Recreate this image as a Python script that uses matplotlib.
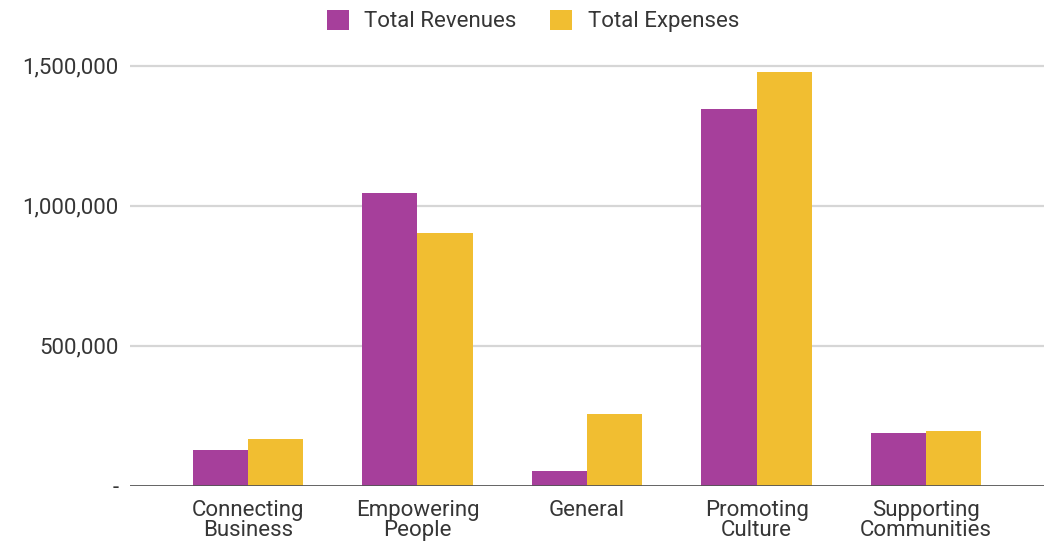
import numpy as np
import matplotlib.pyplot as plt
from matplotlib.ticker import FuncFormatter

plt.rcParams['font.family'] = ['Roboto', 'DejaVu Sans']

categories = ['Connecting\nBusiness', 'Empowering\nPeople', 'General',
              'Promoting\nCulture', 'Supporting\nCommunities']
revenues = [128000, 1045000, 54000, 1345000, 189000]
expenses = [168000, 903000, 257000, 1477000, 196000]
yticks = [0, 500000, 1000000, 1500000]

purple = '#A63F9B'
yellow = '#F1BE31'
text_color = '#363636'

fig = plt.figure(figsize=(10.44, 5.43), dpi=100)
ax = fig.add_axes([130 / 1044, 1 - 486 / 543, 914 / 1044, 431 / 543])

x = np.arange(len(categories))
w = 0.325
ax.bar(x - w / 2, revenues, w, color=purple, label='Total Revenues', zorder=3)
ax.bar(x + w / 2, expenses, w, color=yellow, label='Total Expenses', zorder=3)

ax.set_xlim(-0.5 - 33 / 169.5, 4.5 + 33 / 169.5)
ax.set_ylim(0, 1.5375e6)

ax.set_xticks(x)
ax.set_xticklabels(categories, fontsize=16, color=text_color, linespacing=0.92)
ax.set_yticks(yticks)
ax.yaxis.set_major_formatter(FuncFormatter(lambda v, p: '-' if v == 0 else f'{int(v):,}'))
ax.tick_params(axis='y', length=0, pad=8, labelsize=16, labelcolor=text_color)
ax.tick_params(axis='x', length=0, pad=10)

for t in yticks[1:]:
    ax.axhline(t, color='#d6d6d6', lw=1.6, zorder=1)
ax.axhline(0, color='#555555', lw=2, zorder=4)

for s in ax.spines.values():
    s.set_visible(False)

fig.legend(loc='center', bbox_to_anchor=(533 / 1044, 1 - 21 / 543), ncol=2,
           frameon=False, fontsize=16, labelcolor=text_color,
           handlelength=1.0, handleheight=1.0, handletextpad=0.7,
           columnspacing=1.5)

fig.savefig('out.png', dpi=100)
